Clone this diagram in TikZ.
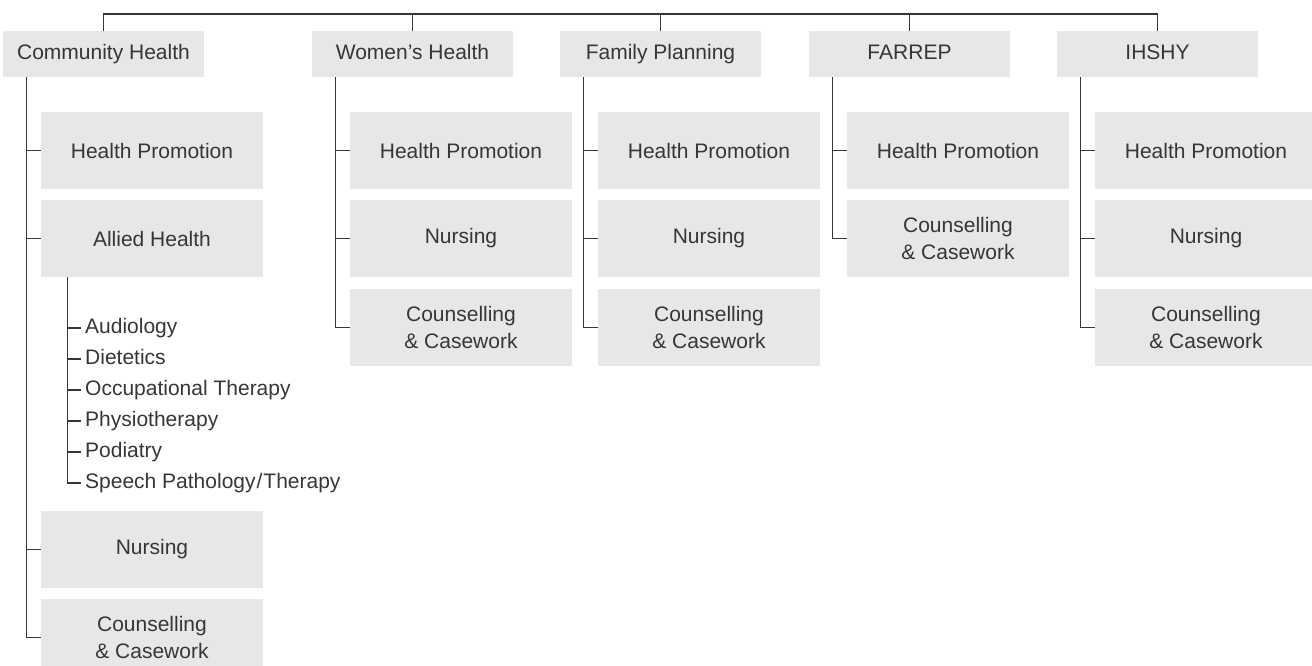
\documentclass[tikz,border=0pt]{standalone}
\usepackage{fontspec}
\setmainfont{Liberation Sans}
\definecolor{boxgrey}{HTML}{E6E7E8}
\definecolor{inkgrey}{HTML}{363636}

\begin{document}
\begin{tikzpicture}[x=1pt,y=-1pt,
    every node/.style={font=\fontsize{21}{27}\selectfont, text=inkgrey},
    hdr/.style={fill=boxgrey, minimum width=201pt, minimum height=46pt, inner sep=0pt,
                text height=15pt, text depth=4pt},
    unit/.style={fill=boxgrey, minimum width=222pt, minimum height=77pt, inner sep=0pt, align=center},
    item/.style={anchor=west, inner xsep=4pt, inner ysep=0pt, text height=15pt, text depth=4pt},
    link/.style={draw=inkgrey, line width=1.3pt}]
      \useasboundingbox (0,0) rectangle (1312,666);
      \clip (0,0) rectangle (1312,666); % the last boxes run past the edge

      % the five services along the top
      \node[hdr] (ch) at (103.5,54) {Community Health};
      \node[hdr] (wh) at (412.5,54) {Women’s Health};
      \node[hdr] (fp) at (660.5,54) {Family Planning};
      \node[hdr] (fa) at (909.5,54) {FARREP};
      \node[hdr] (ih) at (1157.5,54) {IHSHY};

      \coordinate (bar) at (0,14); % height of the bar joining them
      \draw[link] (ch.north) |- (bar -| ih.north) -- (ih.north);
      \foreach \h in {wh,fp,fa}
            \draw[link] (\h.north) -- (\h.north |- bar);

      % Community Health
      \node[unit] (chhp) at (152,150.5) {Health Promotion};
      \node[unit] (chah) at (152,238.5) {Allied Health};
      \node[unit] (chnu) at (152,549.5) {Nursing};
      \node[unit] (chcc) at (152,637.5) {Counselling\\\& Casework};

      % the allied health list
      \node[item] (au) at (81,328) {Audiology};
      \node[item] (di) at (81,359) {Dietetics};
      \node[item] (ot) at (81,390) {Occupational Therapy};
      \node[item] (ph) at (81,421) {Physiotherapy};
      \node[item] (po) at (81,452) {Podiatry};
      \node[item] (sp) at (81,483) {Speech Pathology\kern1pt/\kern1pt Therapy};
      \foreach \s in {au,di,ot,ph,po,sp}
            \draw[link] ([xshift=27pt]chah.south west) |- (\s.west);

      % Women's Health
      \node[unit] (whhp) at (461,150.5) {Health Promotion};
      \node[unit] (whnu) at (461,238.5) {Nursing};
      \node[unit] (whcc) at (461,327.5) {Counselling\\\& Casework};

      % Family Planning
      \node[unit] (fphp) at (709,150.5) {Health Promotion};
      \node[unit] (fpnu) at (709,238.5) {Nursing};
      \node[unit] (fpcc) at (709,327.5) {Counselling\\\& Casework};

      % FARREP
      \node[unit] (fahp) at (958,150.5) {Health Promotion};
      \node[unit] (facc) at (958,238.5) {Counselling\\\& Casework};

      % IHSHY
      \node[unit] (ihhp) at (1206,150.5) {Health Promotion};
      \node[unit] (ihnu) at (1206,238.5) {Nursing};
      \node[unit] (ihcc) at (1206,327.5) {Counselling\\\& Casework};

      % trunk from each service down to its units
      \foreach \p/\c in {ch/chhp, ch/chah, ch/chnu, ch/chcc,
                         wh/whhp, wh/whnu, wh/whcc,
                         fp/fphp, fp/fpnu, fp/fpcc,
                         fa/fahp, fa/facc,
                         ih/ihhp, ih/ihnu, ih/ihcc}
            \draw[link] ([xshift=24pt]\p.south west) |- (\c.west);
\end{tikzpicture}
\end{document}
